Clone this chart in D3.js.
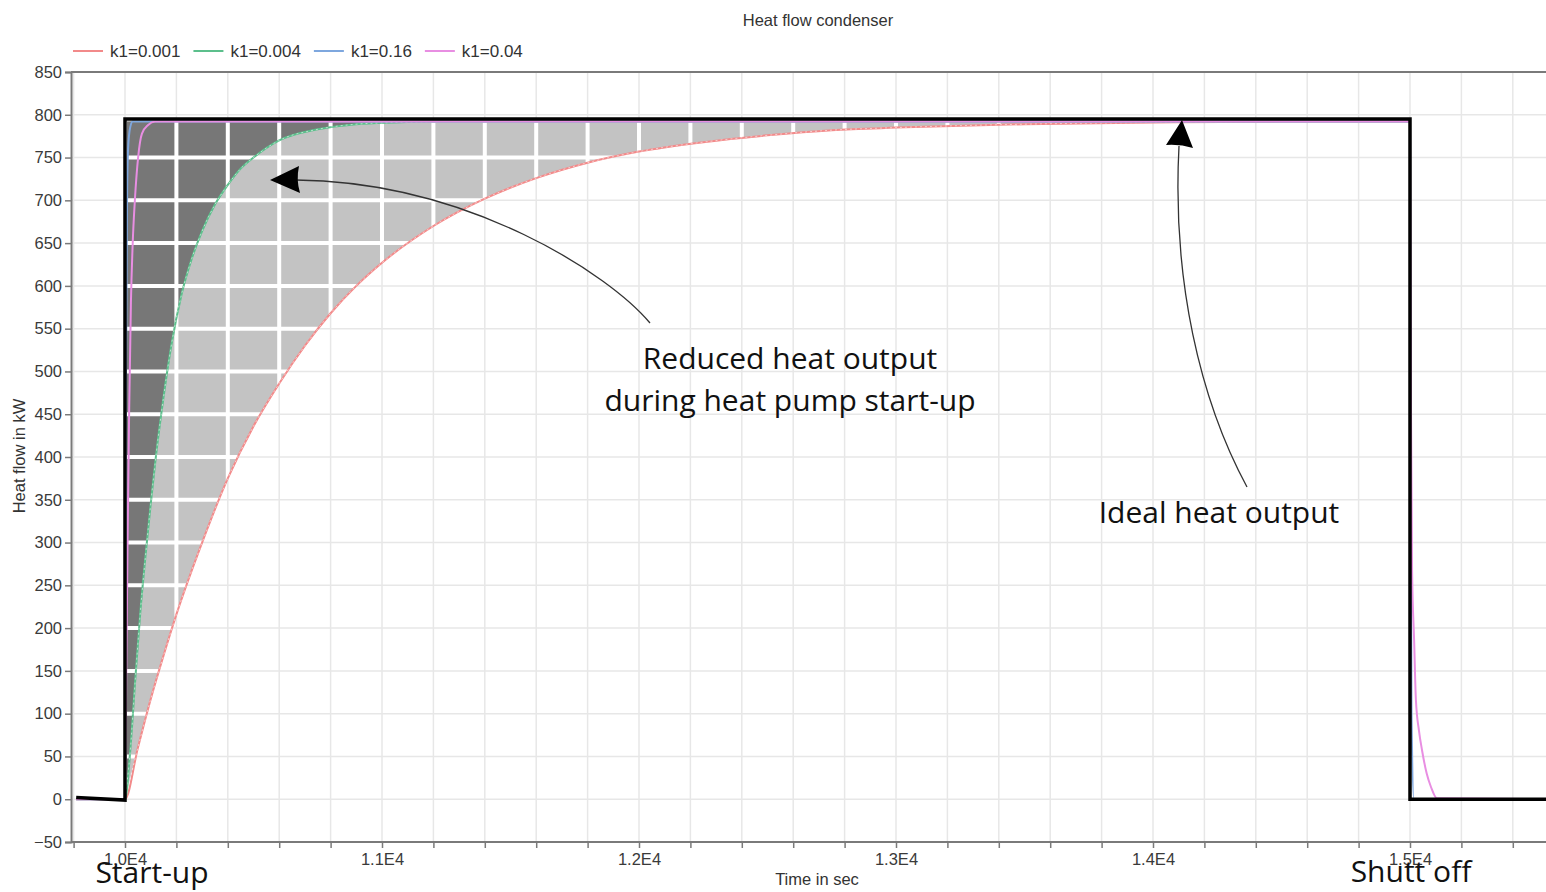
<!DOCTYPE html>
<html>
<head>
<meta charset="utf-8">
<script src="https://cdn.jsdelivr.net/npm/d3@7"></script>
<style>
body { margin: 0; background: #fff; }
svg { display: block; }
</style>
</head>
<body>
<div id="chart"></div>
<script>
var width  = 1546;
var height = 892;

// legend
var seriesNames  = ["k1=0.001", "k1=0.004", "k1=0.16", "k1=0.04"];
var seriesColors = ["#f28a8a", "#5cbf8c", "#7ea7de", "#e88ee2"];

// time in sec / heat flow in kW
var idealTime  = [9810, 10000, 10000, 15000, 15000, 15600];
var idealValue = [2, -1, 795, 795, 0, 0];

var redTime  = [9810, 10000, 10050, 10100, 10150, 10200, 10300, 10400, 10500, 10600, 10700, 10800, 10900, 11000, 11200, 11400, 11600, 11800, 12000, 12250, 12500, 12750, 13000, 13500, 14000, 14500, 15000, 15000, 15600];
var redValue = [0, 0, 60, 117, 168, 216, 300, 375, 436, 486, 530, 568, 600, 627, 670, 702, 726, 744, 757, 768, 776, 782, 785, 789, 791, 792, 792, 0, 0];

var greenTime  = [9810, 10000, 10020, 10040, 10060, 10080, 10100, 10120, 10150, 10180, 10220, 10260, 10300, 10350, 10400, 10450, 10500, 10600, 10750, 10900, 11050, 11226, 15000, 15000, 15600];
var greenValue = [0, 0, 55, 140, 220, 285, 345, 400, 470, 530, 590, 632, 664, 695, 718, 737, 750, 770, 783, 789, 791, 792, 792, 0, 0];

var blueTime  = [9810, 10000, 10002, 10004, 10008, 10012, 10020, 10030, 15000, 15002, 15006, 15015, 15600];
var blueValue = [0, 0, 300, 500, 700, 760, 785, 792, 792, 400, 100, 0, 0];

var pinkTime  = [9810, 10000, 10005, 10010, 10016, 10023, 10030, 10039, 10051, 10066, 10090, 10117, 15000, 15004, 15008, 15016, 15023, 15035, 15047, 15065, 15082, 15105, 15600];
var pinkValue = [0, 0, 150, 300, 450, 580, 650, 703, 750, 778, 788, 792, 792, 450, 268, 186, 116, 80, 57, 30, 14, 1, 0];

var yTicks = d3.range(-50, 851, 50);
var xTicks = d3.range(9800, 15601, 200);
var xLabelTicks = [10000, 11000, 12000, 13000, 14000, 15000];
var plateau = 792; // where the start-up curves level off

function zip(t, v) { return t.map(function(d, i) { return {t: d, v: v[i]}; }); }
var ideal = zip(idealTime, idealValue);
var series = [zip(redTime, redValue), zip(greenTime, greenValue), zip(blueTime, blueValue), zip(pinkTime, pinkValue)];

var svg = d3.select("#chart").append("svg")
  .attr("width", width)
  .attr("height", height)
  .style("font-family", "'Liberation Sans', Arial, sans-serif");

var x = d3.scaleLinear().domain([10000, 15000]).range([125, 1410]);
var y = d3.scaleLinear().domain([-50, 850]).range([842, 72]);
var left = x(9790), right = x(15600);

// grid
var grid = svg.append("g");
grid.selectAll(".vg").data(xTicks).enter().append("line")
  .attr("x1", d => x(d)).attr("x2", d => x(d))
  .attr("y1", y(850)).attr("y2", y(-50))
  .attr("stroke", "#e7e7e7").attr("stroke-width", 1.5);
grid.selectAll(".hg").data(yTicks).enter().append("line")
  .attr("x1", left).attr("x2", right)
  .attr("y1", d => y(d)).attr("y2", d => y(d))
  .attr("stroke", "#e7e7e7").attr("stroke-width", 1.5);

// shaded loss areas
var startup = function(d) { return d.t >= 10000 && d.t < 15000; };
var lossArea = d3.area().x(d => x(d.t)).y0(y(plateau)).y1(d => y(d.v)).curve(d3.curveMonotoneX);
var redStart   = series[0].filter(startup);
var greenStart = series[1].filter(function(d) { return d.t >= 10000 && d.t <= 11226; });

svg.append("clipPath").attr("id", "shade")
  .append("path").attr("d", lossArea(redStart));

svg.append("path").attr("d", lossArea(redStart)).attr("fill", "#c3c3c3");
svg.append("path").attr("d", lossArea(greenStart)).attr("fill", "#777777");

// white grid over the shading
var wg = svg.append("g").attr("clip-path", "url(#shade)");
wg.selectAll("line.v").data(xTicks).enter().append("line")
  .attr("x1", d => x(d)).attr("x2", d => x(d))
  .attr("y1", y(850)).attr("y2", y(-50))
  .attr("stroke", "#fff").attr("stroke-width", 4);
wg.selectAll("line.h").data(yTicks).enter().append("line")
  .attr("x1", left).attr("x2", right)
  .attr("y1", d => y(d)).attr("y2", d => y(d))
  .attr("stroke", "#fff").attr("stroke-width", 4);

// curves
var line = d3.line().x(d => x(d.t)).y(d => y(d.v)).curve(d3.curveMonotoneX);
var lineStep = d3.line().x(d => x(d.t)).y(d => y(d.v));
series.forEach(function(s, i) {
  svg.append("path").attr("d", line(s))
    .attr("fill", "none").attr("stroke", seriesColors[i]).attr("stroke-width", 2);
  if (i < 2) {
    svg.append("path").attr("d", line(s.filter(startup)))
      .attr("fill", "none").attr("stroke", "#fff").attr("stroke-width", 0.8)
      .attr("stroke-dasharray", "2,3").attr("opacity", 0.7);
  }
});

// ideal heat output
svg.append("path").attr("d", lineStep(ideal))
  .attr("fill", "none").attr("stroke", "#000").attr("stroke-width", 3.5)
  .attr("stroke-linejoin", "miter");

// axes
var axisColor = "#7a7a7a";
svg.append("line").attr("x1", left).attr("x2", width).attr("y1", y(850)).attr("y2", y(850))
  .attr("stroke", axisColor).attr("stroke-width", 2);

var yAxis = svg.append("g").attr("transform", "translate(" + left + ",0)")
  .call(d3.axisLeft(y).tickValues(yTicks).tickSize(6).tickPadding(3).tickFormat(d3.format("d")));
var xAxis = svg.append("g").attr("transform", "translate(0," + y(-50) + ")")
  .call(d3.axisBottom(x).tickValues(xTicks).tickSize(6).tickPadding(5)
    .tickFormat(function(d) { return xLabelTicks.indexOf(d) >= 0 ? (d / 10000).toFixed(1) + "E4" : ""; }));
xAxis.select(".domain").attr("d", "M" + left + ",0H" + right);
[yAxis, xAxis].forEach(function(a) {
  a.select(".domain").attr("stroke", axisColor).attr("stroke-width", 2);
  a.selectAll(".tick line").attr("stroke", axisColor).attr("stroke-width", 1.5);
  a.selectAll(".tick text").attr("fill", "#3a3a3a").style("font-size", "16.5px")
    .style("font-family", "'Liberation Sans', Arial, sans-serif");
});

// titles
svg.append("text").attr("x", 818).attr("y", 26).attr("text-anchor", "middle")
  .attr("fill", "#333").style("font-size", "16.5px").text("Heat flow condenser");
svg.append("text").attr("x", 817).attr("y", 885).attr("text-anchor", "middle")
  .attr("fill", "#333").style("font-size", "16.5px").text("Time in sec");
svg.append("text").attr("transform", "translate(25,456) rotate(-90)").attr("text-anchor", "middle")
  .attr("fill", "#333").style("font-size", "16.5px").text("Heat flow in kW");

// legend
var lx = 73;
seriesNames.forEach(function(name, i) {
  svg.append("line").attr("x1", lx).attr("x2", lx + 30).attr("y1", 51).attr("y2", 51)
    .attr("stroke", seriesColors[i]).attr("stroke-width", 2);
  var t = svg.append("text").attr("x", lx + 37).attr("y", 57)
    .attr("fill", "#333").style("font-size", "17px").text(name);
  lx += 37 + t.node().getComputedTextLength() + 13;
});

// annotations
var note = svg.append("g").style("font-family", "'Open Sans', 'Noto Sans', sans-serif")
  .style("font-size", "30px").attr("fill", "#111");
note.append("text").attr("x", 790).attr("y", 369).attr("text-anchor", "middle").text("Reduced heat output");
note.append("text").attr("x", 790).attr("y", 411).attr("text-anchor", "middle").text("during heat pump start-up");
note.append("text").attr("x", 1219).attr("y", 523).attr("text-anchor", "middle").text("Ideal heat output");
note.append("text").attr("x", 152).attr("y", 883).attr("text-anchor", "middle").text("Start-up");
note.append("text").attr("x", 1411).attr("y", 882).attr("text-anchor", "middle").text("Shutt off");

svg.append("path").attr("d", "M650,323 C610,275 470,182 296,180")
  .attr("fill", "none").attr("stroke", "#333").attr("stroke-width", 1.3);
svg.append("path").attr("d", "M270,180 L299,166 Q296,180 300,193 Z").attr("fill", "#000");

svg.append("path").attr("d", "M1247,487 C1200,400 1172,280 1179,146")
  .attr("fill", "none").attr("stroke", "#333").attr("stroke-width", 1.3);
svg.append("path").attr("d", "M1182,120 L1193,148 Q1180,144 1166,145 Z").attr("fill", "#000");
</script>
</body>
</html>
